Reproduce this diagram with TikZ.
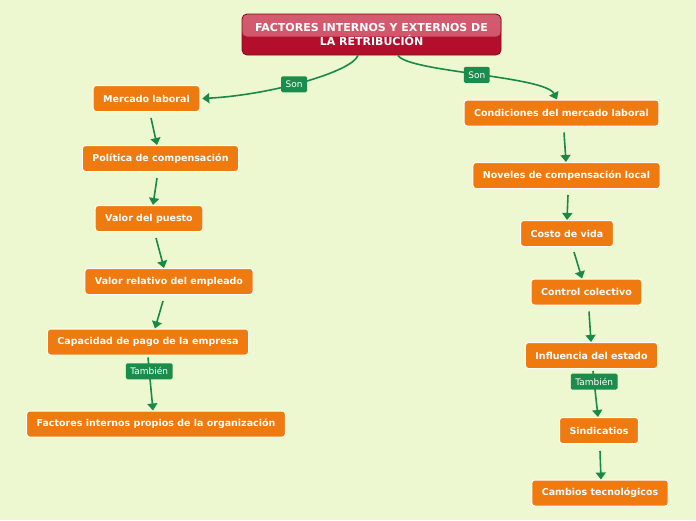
\documentclass[tikz,border=0pt]{standalone}
\usepackage{fontspec}
\setmainfont{DejaVu Sans}
\usetikzlibrary{arrows.meta}

\definecolor{bgcol}{HTML}{EEF8D0}
\definecolor{itemcol}{HTML}{EF7A10}
\definecolor{linkcol}{HTML}{188A48}
\definecolor{tagcol}{HTML}{1A8C4C}
\definecolor{titlecol}{HTML}{B30F2D}
\definecolor{titlehi}{HTML}{D45C70}
\definecolor{titleedge}{HTML}{7A0A1E}

\tikzset{
  item/.style={draw=white, line width=1pt, fill=itemcol, rounded corners=3pt, text=white,
    font=\bfseries\fontsize{9.5}{11}\selectfont, minimum height=26pt, inner xsep=10pt},
  link/.style={draw=linkcol, line width=1.6pt, -{Triangle[width=10pt,length=7pt]}},
  tag/.style={fill=tagcol, text=white, rounded corners=1.5pt, font=\fontsize{9}{10}\selectfont,
    inner xsep=4.5pt, inner ysep=2pt, minimum height=16pt}
}

\begin{document}
\begin{tikzpicture}[x=1pt,y=-1pt]
  \fill[bgcol] (0,0) rectangle (696,520);
  \useasboundingbox (0,0) rectangle (696,520);

  %%%%% TITLE %%%%%
  \node[draw=titleedge, line width=0.8pt, fill=titlecol, rounded corners=5pt, text=white,
    minimum width=259pt, minimum height=41pt, align=center,
    font=\bfseries\fontsize{11}{13.5}\selectfont,
    path picture={\fill[top color=titlehi, bottom color=titlehi!85!titlecol]
      (path picture bounding box.north west) rectangle ([yshift=-2pt]path picture bounding box.east);}]
    (title) at (371.5,34.5) {FACTORES INTERNOS Y EXTERNOS DE\\LA RETRIBUCIÓN};

  %%%%% LEFT %%%%%
  \node[item] (merc) at (146.5,98.5) {Mercado laboral};
  \node[item] (pol) at (160.5,158.5) {Política de compensación};
  \node[item] (puesto) at (149,218.5) {Valor del puesto};
  \node[item] (rel) at (169,281.5) {Valor relativo del empleado};
  \node[item] (cap) at (148,342) {Capacidad de pago de la empresa};
  \node[item] (fact) at (156,424) {Factores internos propios de la organización};

  %%%%% RIGHT %%%%%
  \node[item] (cond) at (561.5,113) {Condiciones del mercado laboral};
  \node[item] (nov) at (566.5,175.5) {Noveles de compensación local};
  \node[item] (costo) at (567,233.5) {Costo de vida};
  \node[item] (ctrl) at (586.5,292) {Control colectivo};
  \node[item] (infl) at (591.5,355.5) {Influencia del estado};
  \node[item] (sind) at (599,430.5) {Sindicatios};
  \node[item] (camb) at (600,493) {Cambios tecnológicos};

  %%%%% LINKS %%%%%
  \draw[link] ([xshift=-13.5pt]title.south) .. controls (352,72) and (270,95) .. ([xshift=2pt]merc.east)
    node[tag, pos=0.55] {Son};
  \draw[link] ([xshift=26.5pt]title.south) .. controls (408,72) and (545,76) .. ([xshift=-4.5pt]cond.north)
    node[tag, pos=0.5] {Son};

  \draw[link] ([shift={(4.5,6)}]merc.south) -- ([shift={(-3.5,0)}]pol.north);
  \draw[link] ([shift={(-3.5,6)}]pol.south) -- ([shift={(4,0)}]puesto.north);
  \draw[link] ([shift={(7,6)}]puesto.south) -- ([shift={(-5,0)}]rel.north);
  \draw[link] ([shift={(-6,6)}]rel.south) -- ([shift={(7,0)}]cap.north);
  \draw[link] ([shift={(0,2)}]cap.south) -- ([shift={(-3,0)}]fact.north)
    node[tag, pos=0.26] {También};

  \draw[link] ([shift={(2.5,6)}]cond.south) -- ([shift={(-0.5,0)}]nov.north);
  \draw[link] ([shift={(1.5,6)}]nov.south) -- (costo.north);
  \draw[link] ([shift={(7,5)}]costo.south) -- ([shift={(-4.5,0)}]ctrl.north);
  \draw[link] ([shift={(2.5,6)}]ctrl.south) -- ([shift={(-0.5,0)}]infl.north);
  \draw[link] ([shift={(1.5,2)}]infl.south) -- ([shift={(-1,0)}]sind.north)
    node[tag, pos=0.23] {También};
  \draw[link] ([shift={(1,7)}]sind.south) -- ([shift={(1,0)}]camb.north);
\end{tikzpicture}
\end{document}
